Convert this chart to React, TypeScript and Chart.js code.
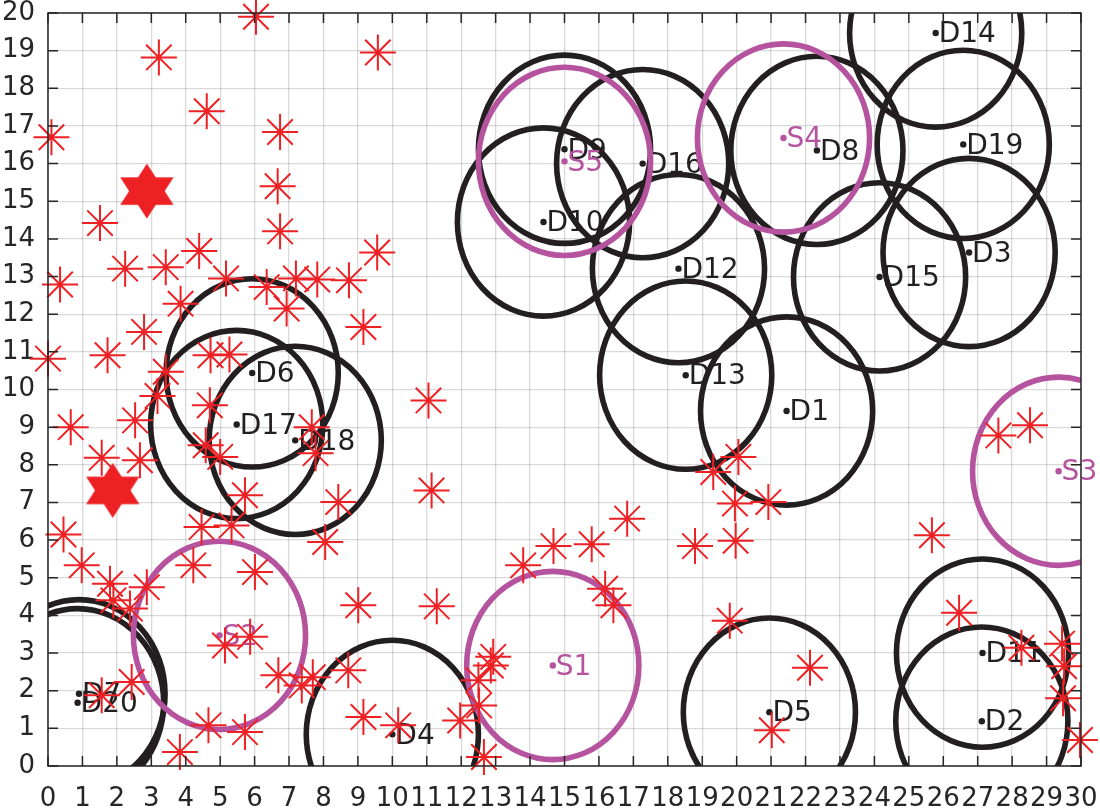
import React, { useEffect, useRef } from 'react';
import { Chart, registerables } from 'chart.js';

Chart.register(...registerables);

const RED = 'rgb(237,32,36)';
const BLACK = '#231f20';
const PURPLE = '#b5539f';
const AXIS = '#262626';
const FONT = '"DejaVu Sans", "Liberation Sans", Arial, sans-serif';
const COVER_RADIUS = 2.5;

const droneNames = ['D1', 'D2', 'D3', 'D4', 'D5', 'D6', 'D7', 'D8', 'D9', 'D10', 'D11', 'D12', 'D13', 'D14', 'D15', 'D16', 'D17', 'D18', 'D19', 'D20'];
const droneX = [21.45, 27.12, 26.75, 10.0, 20.95, 5.93, 0.9, 22.33, 15.0, 14.39, 27.14, 18.31, 18.52, 25.78, 24.15, 17.27, 5.48, 7.18, 26.58, 0.86];
const droneY = [9.43, 1.19, 13.64, 0.84, 1.43, 10.44, 1.92, 16.35, 16.38, 14.45, 3.0, 13.21, 10.38, 19.47, 12.99, 16.0, 9.07, 8.65, 16.51, 1.68];

const stationNames = ['S1', 'S2', 'S3', 'S4', 'S5'];
const stationX = [14.66, 4.98, 29.35, 21.36, 15.0];
const stationY = [2.67, 3.47, 7.83, 16.68, 16.06];

const userX = [
  0.1, 3.22, 4.61, 6.04, 6.74, 6.67, 6.74, 1.51, 4.39, 9.58,
  9.56, 2.24, 3.42, 0.35, 5.17, 6.35, 7.2, 7.82, 8.74, 6.93,
  3.85, 9.16, 2.79, 1.73, 0.0, 3.42, 4.72, 5.27, 3.18, 4.7,
  2.53, 0.66, 7.66, 1.56, 2.67, 4.58, 5.0, 7.77, 5.72, 8.43,
  0.45, 4.46, 5.33, 0.98, 8.05, 1.8, 1.9, 2.38, 2.87, 4.22,
  6.01, 9.01, 5.14, 5.87, 6.69, 7.37, 7.69, 8.72, 2.43, 1.56,
  4.66, 5.72, 3.83, 9.16, 11.29, 13.8, 14.68, 15.79, 16.82, 16.18,
  16.42, 18.79, 19.8, 12.93, 12.86, 12.5, 12.52, 11.97, 10.17, 12.66,
  11.05, 11.14, 19.32, 20.05, 19.95, 20.92, 19.97, 27.6, 28.52, 25.67,
  22.13, 21.02, 26.46, 28.27, 29.45, 29.51, 29.48, 29.97,
];
const userY = [
  16.7, 18.82, 17.39, 19.9, 16.84, 15.4, 14.2, 14.42, 13.68, 18.95,
  13.64, 13.21, 13.25, 12.79, 12.95, 12.72, 12.95, 12.92, 12.9, 12.15,
  12.28, 11.66, 11.53, 10.91, 10.82, 10.47, 10.91, 10.93, 9.83, 9.58,
  9.18, 9.0, 9.0, 8.19, 8.12, 8.52, 8.21, 8.31, 7.19, 7.01,
  6.15, 6.35, 6.39, 5.33, 5.95, 4.84, 4.4, 4.18, 4.75, 5.33,
  5.15, 4.27, 3.2, 3.43, 2.41, 2.14, 2.36, 2.54, 2.23, 1.88,
  1.08, 0.9, 0.37, 1.3, 4.24, 5.33, 5.84, 5.89, 6.57, 4.71,
  4.27, 5.84, 3.86, 2.9, 2.67, 2.28, 1.61, 1.21, 1.08, 0.24,
  9.71, 7.32, 7.81, 8.21, 6.97, 7.01, 5.98, 8.78, 9.05, 6.13,
  2.61, 0.95, 4.07, 3.14, 3.25, 2.65, 1.8, 0.69,
];

const hubX = [2.87, 1.88];
const hubY = [15.27, 7.32];

function makeHexagram(): HTMLCanvasElement {
  const c = document.createElement('canvas');
  const size = 62;
  c.width = size;
  c.height = size;
  const g = c.getContext('2d')!;
  const cx = size / 2;
  const cy = size / 2;
  const R = 27.5;
  const sx = 1.12;
  g.fillStyle = RED;
  const tri = (start: number) => {
    g.beginPath();
    for (let k = 0; k < 3; k++) {
      const a = start + (k * 2 * Math.PI) / 3;
      const px = cx + Math.cos(a) * R * sx;
      const py = cy + Math.sin(a) * R;
      if (k === 0) g.moveTo(px, py);
      else g.lineTo(px, py);
    }
    g.closePath();
    g.fill();
  };
  tri(-Math.PI / 2);
  tri(Math.PI / 2);
  return c;
}

function drawGroup(chart: any, xs: number[], ys: number[], names: string[], color: string) {
  const { ctx, chartArea, scales } = chart;
  const sx = scales.x;
  const sy = scales.y;
  ctx.save();
  ctx.beginPath();
  ctx.rect(chartArea.left, chartArea.top, chartArea.right - chartArea.left, chartArea.bottom - chartArea.top);
  ctx.clip();
  ctx.strokeStyle = color;
  ctx.lineWidth = 5.6;
  for (let i = 0; i < xs.length; i++) {
    const px = sx.getPixelForValue(xs[i]);
    const py = sy.getPixelForValue(ys[i]);
    const rx = Math.abs(sx.getPixelForValue(xs[i] + COVER_RADIUS) - px);
    const ry = Math.abs(sy.getPixelForValue(ys[i] + COVER_RADIUS) - py);
    ctx.beginPath();
    ctx.ellipse(px, py, rx, ry, 0, 0, Math.PI * 2);
    ctx.stroke();
  }
  ctx.restore();
  ctx.save();
  ctx.fillStyle = color;
  ctx.font = `28px ${FONT}`;
  ctx.textAlign = 'left';
  ctx.textBaseline = 'middle';
  for (let i = 0; i < xs.length; i++) {
    const px = sx.getPixelForValue(xs[i]);
    const py = sy.getPixelForValue(ys[i]);
    ctx.beginPath();
    ctx.arc(px, py, 3.2, 0, Math.PI * 2);
    ctx.fill();
    ctx.fillText(names[i], px + 3, py + 2);
  }
  ctx.restore();
}

const coveragePlugin = {
  id: 'coverage',
  beforeDatasetsDraw(chart: any) {
    drawGroup(chart, droneX, droneY, droneNames, BLACK);
    drawGroup(chart, stationX, stationY, stationNames, PURPLE);
  },
};

const framePlugin = {
  id: 'frame',
  afterDraw(chart: any) {
    const { ctx, chartArea, scales } = chart;
    const { left, right, top, bottom } = chartArea;
    ctx.save();
    ctx.strokeStyle = AXIS;
    ctx.lineWidth = 1.5;
    ctx.strokeRect(left, top, right - left, bottom - top);
    const len = 10;
    ctx.beginPath();
    for (const t of scales.x.ticks) {
      const px = scales.x.getPixelForValue(t.value);
      ctx.moveTo(px, bottom);
      ctx.lineTo(px, bottom - len);
      ctx.moveTo(px, top);
      ctx.lineTo(px, top + len);
    }
    for (const t of scales.y.ticks) {
      const py = scales.y.getPixelForValue(t.value);
      ctx.moveTo(left, py);
      ctx.lineTo(left + len, py);
      ctx.moveTo(right, py);
      ctx.lineTo(right - len, py);
    }
    ctx.stroke();
    ctx.restore();
  },
};

export default function App() {
  const ref = useRef<HTMLCanvasElement>(null);
  useEffect(() => {
    document.body.style.margin = '0';
    const hex = makeHexagram();
    const chart = new Chart(ref.current!, {
      type: 'scatter',
      data: {
        datasets: [
          {
            data: userX.map((x, i) => ({ x, y: userY[i] })),
            pointStyle: 'star',
            pointRadius: 18,
            borderColor: RED,
            borderWidth: 2,
            backgroundColor: 'transparent',
            clip: false,
          } as any,
          {
            data: hubX.map((x, i) => ({ x, y: hubY[i] })),
            pointStyle: hex,
            pointRadius: 28,
            clip: false,
          } as any,
        ],
      },
      options: {
        responsive: false,
        animation: false,
        events: [],
        layout: { autoPadding: false, padding: { left: 0, right: 19, top: 13, bottom: 0 } },
        plugins: { legend: { display: false }, tooltip: { enabled: false } },
        scales: {
          x: {
            type: 'linear',
            min: 0,
            max: 30,
            ticks: {
              stepSize: 1,
              autoSkip: false,
              maxRotation: 0,
              minRotation: 0,
              padding: 0,
              color: AXIS,
              font: { family: FONT, size: 26, lineHeight: 1.2 },
            },
            grid: { color: 'rgba(0,0,0,0.15)', lineWidth: 1.3, drawTicks: true, tickLength: 18, tickColor: 'rgba(0,0,0,0)' },
            border: { display: false },
            afterFit: (s: any) => {
              s.height = 43;
              s.paddingLeft = 0;
              s.paddingRight = 0;
            },
          },
          y: {
            type: 'linear',
            min: 0,
            max: 20,
            ticks: {
              stepSize: 1,
              autoSkip: false,
              padding: 0,
              color: AXIS,
              font: { family: FONT, size: 26, lineHeight: 0.9 },
            },
            grid: { color: 'rgba(0,0,0,0.15)', lineWidth: 1.3, drawTicks: true, tickLength: 13, tickColor: 'rgba(0,0,0,0)' },
            border: { display: false },
            afterFit: (s: any) => {
              s.width = 48;
              s.paddingTop = 0;
              s.paddingBottom = 0;
            },
          },
        },
      } as any,
      plugins: [coveragePlugin, framePlugin],
    });
    return () => chart.destroy();
  }, []);
  return <canvas ref={ref} width={1100} height={809} style={{ display: 'block' }} />;
}
